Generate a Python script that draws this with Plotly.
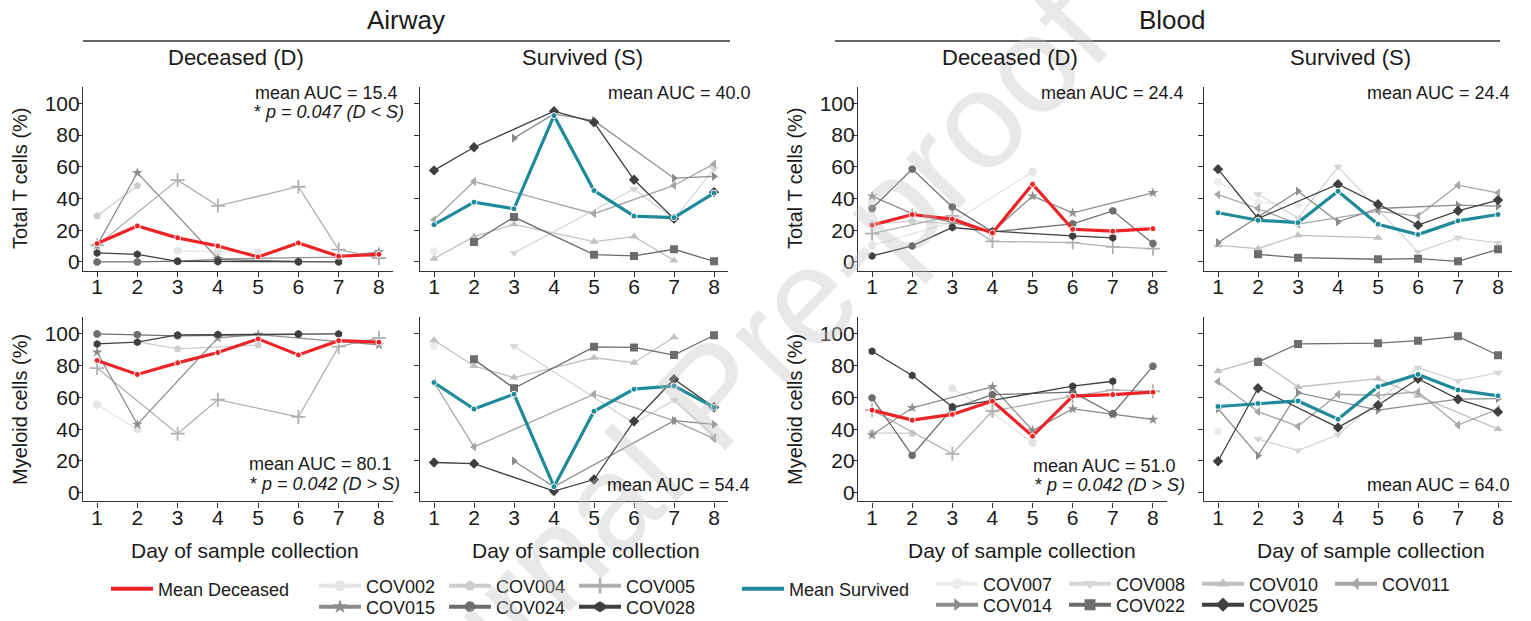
import plotly.graph_objects as go

W, H = 1531, 621
N = None
DAYS = [1, 2, 3, 4, 5, 6, 7, 8]
Y_TICKS = [0, 20, 40, 60, 80, 100]

DEC_IDS = ["COV002", "COV004", "COV005", "COV015", "COV024", "COV028"]
SUR_IDS = ["COV007", "COV008", "COV010", "COV011", "COV014", "COV022", "COV025"]

# ---------------- data: Airway, Total T cells ----------------
aw_tc_dec = {
    "COV002": [N, N, 7, 6.5, 6, N, N, N],
    "COV004": [29, 48, N, N, N, N, N, N],
    "COV005": [10.5, N, 51.6, 35.4, N, 47.4, 7.8, 2.5],
    "COV015": [10.5, 56.2, N, 2, N, N, 3, 6.3],
    "COV024": [0, 0, 0.5, 1.5, N, 0.3, N, N],
    "COV028": [5.7, 4.8, 0.4, 0.2, N, 0, 0, N],
}
aw_tc_dec_mean = [11.6, 22.7, 15.2, 10.1, 3.2, 12, 3.6, 4.8]

aw_tc_sur = {
    "COV007": [6.7, N, N, N, N, N, N, N],
    "COV008": [N, N, 5.7, N, N, 46, 27, 58.7],
    "COV010": [2.1, 16, 23.7, N, 12.8, 16, 1, N],
    "COV011": [26.6, 50.7, N, N, 30.4, N, 48.2, 61.8],
    "COV014": [N, N, 78, 93.3, 89, N, 52.8, 53.9],
    "COV022": [N, 12.6, 28.3, N, 4.6, 3.8, 8, 0.4],
    "COV025": [57.7, 72.3, N, 95, 88, 51.8, 27.3, 44],
}
aw_tc_sur_mean = [23.5, 37.7, 33.5, 92.2, 45, 28.9, 27.9, 43.4]

# ---------------- data: Blood, Total T cells ----------------
bl_tc_dec = {
    "COV002": [10.5, N, 25, N, 56.8, N, N, N],
    "COV004": [23.8, 25.7, 24, N, N, N, N, N],
    "COV005": [17.9, N, 29, 13, N, 12.2, 9.5, 8.4],
    "COV015": [41.5, 30.5, 25, 19, 41.5, 31, N, 43.6],
    "COV024": [33.7, 58.5, 34.7, 19, N, 24, 32.2, 11.6],
    "COV028": [3.8, 10.1, 21.7, 19.4, N, 16.4, 15.2, N],
}
bl_tc_dec_mean = [23.2, 29.9, 27, 18.3, 49, 20.6, 19.4, 21]

bl_tc_sur = {
    "COV007": [50.5, 37.5, 36.2, N, N, N, N, N],
    "COV008": [N, 42.7, 27.8, 60, N, 6.3, 15.2, 12],
    "COV010": [10.5, 8.4, 16.8, N, 15.2, N, N, N],
    "COV011": [42.5, 33.7, 23.8, N, 32, 28.9, 48.4, 43.6],
    "COV014": [12.2, N, 44.6, 25.3, 33.7, N, 35.8, 35.2],
    "COV022": [N, 4.8, 2.7, N, 1.7, 2.1, 0.4, 8],
    "COV025": [58.5, 27.4, N, 49, 36.4, 23.2, 32.2, 39],
}
bl_tc_sur_mean = [31, 26.3, 24.8, 44.6, 23.8, 17.3, 25.9, 29.9]

# ---------------- data: Airway, Myeloid cells ----------------
aw_my_dec = {
    "COV002": [55.6, 40, N, N, N, N, N, N],
    "COV004": [N, 95, 90.6, N, 93, N, N, N],
    "COV005": [78.5, N, 37.2, 58.6, N, 47.7, 92, 97.5],
    "COV015": [88.5, 43, N, 97.5, 99.6, N, N, 93.1],
    "COV024": [100, 99.6, 98.8, N, N, 99.8, N, N],
    "COV028": [93.7, 94.8, 99.4, 99.6, N, 100, 100, N],
}
aw_my_dec_mean = [83.3, 74.5, 81.8, 88.3, 96.9, 86.8, 95.8, 94.8]

aw_my_sur = {
    "COV007": [92.3, N, N, N, N, N, N, N],
    "COV008": [N, N, 92.3, N, N, 43.8, 58.3, 36],
    "COV010": [96, 79.8, 72.5, N, 85, 81.9, 97.9, N],
    "COV011": [69.4, 28.8, N, N, 62.1, N, 45.4, 34],
    "COV014": [N, N, 20, 3.75, N, N, 45.4, 43],
    "COV022": [N, 84, 65.8, N, 91.9, 91.5, 86.7, 99.2],
    "COV025": [19, 18.3, N, 1, 8.3, 45, 71.5, 53.8],
}
aw_my_sur_mean = [69.4, 52.7, 62.1, 3.75, 51.3, 65.2, 67.3, 53.8]

# ---------------- data: Blood, Myeloid cells ----------------
bl_my_dec = {
    "COV002": [N, N, 65.6, 50.3, 31.4, N, N, N],
    "COV004": [37.7, 37.3, N, N, N, N, N, N],
    "COV005": [52, N, 24.5, 51.4, N, 60.8, 64.6, 63.9],
    "COV015": [36.3, 53.5, N, 66.7, 39.2, 52.8, 49.3, 46.1],
    "COV024": [59.7, 23.5, 53, 61.8, N, 63.3, 49.7, 79.7],
    "COV028": [89.1, 73.8, 54.1, 58.1, N, 67.1, 70.2, N],
}
bl_my_dec_mean = [52, 45.7, 49.3, 57.7, 35.6, 60.8, 61.8, 63.3]

bl_my_sur = {
    "COV007": [38.4, N, N, N, N, N, N, N],
    "COV008": [N, 33.8, 26.5, 36.5, N, 78.7, 70.4, 75.6],
    "COV010": [76.6, 83.9, 66.6, N, 71.8, 61, N, 40.1],
    "COV011": [69.9, 51.1, 41.8, 62, 61.4, 63.5, 42.6, 52.6],
    "COV014": [53, 23.4, 63, N, 52, N, 58.9, 59.3],
    "COV022": [N, 82.3, 93.7, N, 94.2, 95.8, 98.5, 86.6],
    "COV025": [19.8, 65.8, N, 41.1, 55.1, 71.8, 58.9, 50.9],
}
bl_my_sur_mean = [54.3, 56.2, 57.8, 46.3, 66.8, 74.5, 64.7, 61]

# ---------------- styles ----------------
FONT = "Liberation Sans, Arial, Helvetica, sans-serif"
TXT = "#1a1a1a"
AX = "#333333"
RED = "#ee2326"
TEAL = "#1f8a9a"
STYLE = {
    "COV002": ("#e4e4e4", "circle"),
    "COV004": ("#cdcdcd", "pentagon"),
    "COV005": ("#b0b0b0", "cross-thin"),
    "COV015": ("#8e8e8e", "star"),
    "COV024": ("#6e6e6e", "octagon"),
    "COV028": ("#3f3f3f", "hexagon"),
    "COV007": ("#ececec", "circle"),
    "COV008": ("#d6d6d6", "triangle-down"),
    "COV010": ("#c0c0c0", "triangle-up"),
    "COV011": ("#a6a6a6", "triangle-left"),
    "COV014": ("#8c8c8c", "triangle-right"),
    "COV022": ("#6c6c6c", "square"),
    "COV025": ("#3f3f3f", "diamond"),
}


def px(x):
    return x / W


def py(y):
    return 1 - y / H


# panel geometry (pixels)
COLS = [(83, 393), (420, 728), (858, 1167), (1204, 1512)]
ROWS = [(86.6, 270.7), (317.3, 501.4)]

panels = [
    (0, 0, aw_tc_dec, aw_tc_dec_mean, DEC_IDS, RED),
    (0, 1, aw_tc_sur, aw_tc_sur_mean, SUR_IDS, TEAL),
    (0, 2, bl_tc_dec, bl_tc_dec_mean, DEC_IDS, RED),
    (0, 3, bl_tc_sur, bl_tc_sur_mean, SUR_IDS, TEAL),
    (1, 0, aw_my_dec, aw_my_dec_mean, DEC_IDS, RED),
    (1, 1, aw_my_sur, aw_my_sur_mean, SUR_IDS, TEAL),
    (1, 2, bl_my_dec, bl_my_dec_mean, DEC_IDS, RED),
    (1, 3, bl_my_sur, bl_my_sur_mean, SUR_IDS, TEAL),
]

fig = go.Figure()
layout = {}

for k, (r, c, pats, mean, ids, mcol) in enumerate(panels, start=1):
    xa = "x" if k == 1 else f"x{k}"
    ya = "y" if k == 1 else f"y{k}"
    for pid in ids:
        col, sym = STYLE[pid]
        mk = dict(color=col, symbol=sym, size=8)
        if sym == "cross-thin":
            mk["line"] = dict(color=col, width=1.8)
            mk["size"] = 10
        fig.add_trace(go.Scatter(
            x=DAYS, y=pats[pid], mode="lines+markers", connectgaps=True,
            line=dict(color=col, width=1.3), marker=mk,
            xaxis=xa, yaxis=ya, showlegend=False, hoverinfo="skip"))
    fig.add_trace(go.Scatter(
        x=DAYS, y=mean, mode="lines+markers", connectgaps=True,
        line=dict(color=mcol, width=3.2),
        marker=dict(color=mcol, size=6, line=dict(color="white", width=1)),
        xaxis=xa, yaxis=ya, showlegend=False, hoverinfo="skip"))

    x0, x1 = COLS[c]
    t, b = ROWS[r]
    common = dict(showgrid=False, zeroline=False, showline=True, linecolor=AX,
                  linewidth=1.2, ticks="outside", ticklen=5, tickwidth=1.2,
                  tickcolor=AX, tickfont=dict(family=FONT, size=21, color=TXT))
    layout["xaxis" if k == 1 else f"xaxis{k}"] = dict(
        domain=[px(x0), px(x1)], anchor=ya, range=[0.65, 8.35],
        tickvals=DAYS, ticklabelstandoff=-8, **common)
    layout["yaxis" if k == 1 else f"yaxis{k}"] = dict(
        domain=[py(b), py(t)], anchor=xa, range=[-5.5, 110.5],
        tickvals=Y_TICKS, showticklabels=(c in (0, 2)),
        ticklabelstandoff=-7, **common)

# ---------------- legends (dummy traces only carry the keys) ----------------
LEG_ROWS = [
    ("legend", ["Mean Deceased"], 106, 589, None),
    ("legend2", ["COV002", "COV004", "COV005"], 314, 586, 73),
    ("legend3", ["COV015", "COV024", "COV028"], 314, 607, 73),
    ("legend4", ["Mean Survived"], 737, 589, None),
    ("legend5", ["COV007", "COV008", "COV010", "COV011"], 931, 584, 76),
    ("legend6", ["COV014", "COV022", "COV025"], 931, 605, 76),
]
for lg, names, lx, ly, ew in LEG_ROWS:
    for nm in names:
        if nm.startswith("Mean"):
            col = RED if "Deceased" in nm else TEAL
            tr = go.Scatter(x=[N], y=[N], mode="lines", name=nm,
                            line=dict(color=col, width=4))
        else:
            col, sym = STYLE[nm]
            mk = dict(color=col, symbol=sym, size=11)
            if sym == "cross-thin":
                mk["line"] = dict(color=col, width=2.5)
            tr = go.Scatter(x=[N], y=[N], mode="lines+markers", name=nm,
                            line=dict(color=col, width=4), marker=mk)
        tr.update(legend=lg, showlegend=True, xaxis="x", yaxis="y",
                  hoverinfo="skip")
        fig.add_trace(tr)
    lgd = dict(x=px(lx), y=py(ly), xanchor="left", yanchor="middle",
               orientation="h", itemwidth=42,
               font=dict(family=FONT, size=18, color=TXT),
               bgcolor="rgba(0,0,0,0)", borderwidth=0,
               itemclick=False, itemdoubleclick=False, tracegroupgap=0)
    if ew:
        lgd.update(entrywidth=ew, entrywidthmode="pixels")
    layout[lg] = lgd

# ---------------- text annotations ----------------
ann = []


def text(x, y, s, size, xanchor="center", angle=0, color=TXT):
    ann.append(dict(x=px(x), y=py(y), xref="paper", yref="paper", text=s,
                    showarrow=False, xanchor=xanchor, yanchor="middle",
                    textangle=angle,
                    font=dict(family=FONT, size=size, color=color)))


# watermark of the source page
ann.append(dict(x=px(712), y=py(395), xref="paper", yref="paper",
                text="Journal Pre-proof", showarrow=False, textangle=-46,
                xanchor="center", yanchor="middle",
                font=dict(family=FONT, size=138, color="rgba(190,190,190,0.36)")))

text(406, 20, "Airway", 26)
text(1172, 20, "Blood", 26)
text(236, 58, "Deceased (D)", 22)
text(582, 58, "Survived (S)", 22)
text(1010, 58, "Deceased (D)", 22)
text(1350, 58, "Survived (S)", 22)

text(20, 178, "Total T cells (%)", 20, angle=-90)
text(795, 178, "Total T cells (%)", 20, angle=-90)
text(20, 410, "Myeloid cells (%)", 20, angle=-90)
text(795, 410, "Myeloid cells (%)", 20, angle=-90)

for cx in (245, 586, 1022, 1371):
    text(cx, 550, "Day of sample collection", 21)

text(400, 93, "mean AUC = 15.4", 18, xanchor="right")
text(406, 112, "* <i>p = 0.047 (D &lt; S)</i>", 18, xanchor="right")
text(753, 93, "mean AUC = 40.0", 18, xanchor="right")
text(1186, 93, "mean AUC = 24.4", 18, xanchor="right")
text(1512, 93, "mean AUC = 24.4", 18, xanchor="right")
text(394, 464, "mean AUC = 80.1", 18, xanchor="right")
text(402, 484, "* <i>p = 0.042 (D &gt; S)</i>", 18, xanchor="right")
text(752, 485, "mean AUC = 54.4", 18, xanchor="right")
text(1178, 466, "mean AUC = 51.0", 18, xanchor="right")
text(1187, 485, "* <i>p = 0.042 (D &gt; S)</i>", 18, xanchor="right")
text(1512, 485, "mean AUC = 64.0", 18, xanchor="right")

shapes = [
    dict(type="line", xref="paper", yref="paper", x0=px(83), x1=px(730),
         y0=py(41), y1=py(41), line=dict(color=AX, width=1.3)),
    dict(type="line", xref="paper", yref="paper", x0=px(835), x1=px(1500),
         y0=py(41), y1=py(41), line=dict(color=AX, width=1.3)),
]

fig.update_layout(
    width=W, height=H,
    margin=dict(l=0, r=0, t=0, b=0, pad=0, autoexpand=False),
    paper_bgcolor="white", plot_bgcolor="white",
    font=dict(family=FONT, color=TXT), showlegend=True,
    annotations=ann, shapes=shapes, **layout)

fig.write_html("out.html")
